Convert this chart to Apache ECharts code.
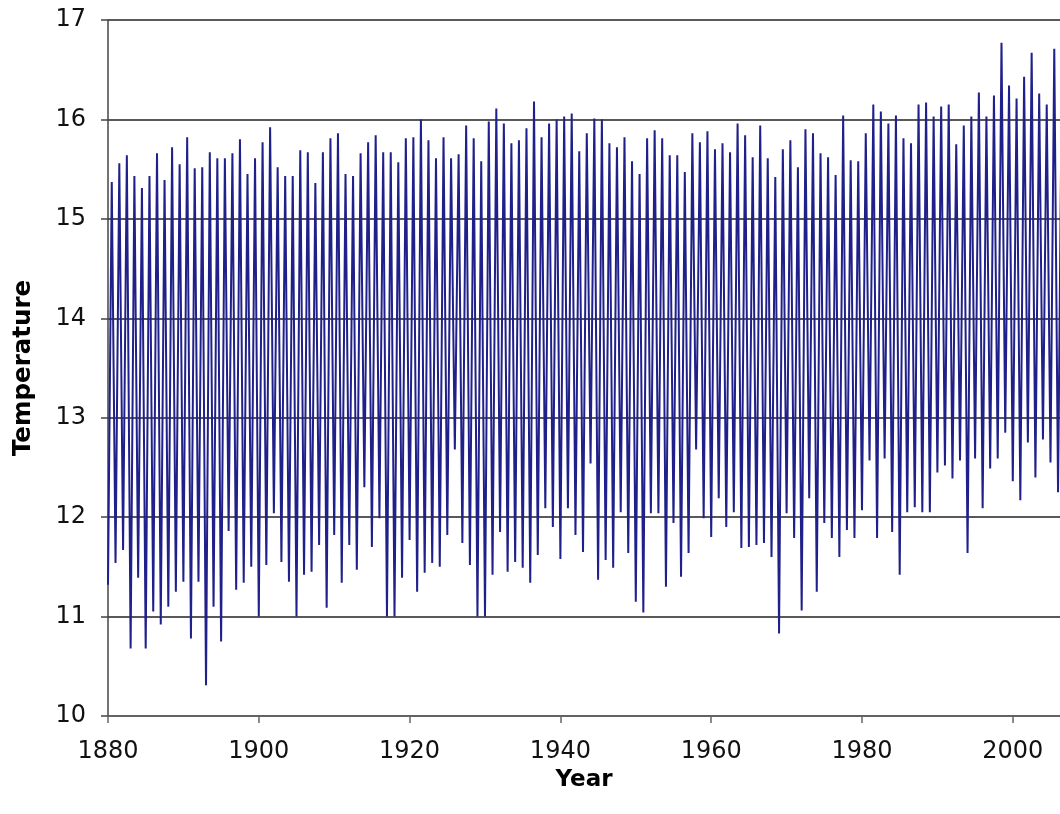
<!DOCTYPE html>
<html>
<head>
<meta charset="utf-8">
<script src="https://cdn.jsdelivr.net/npm/echarts@6/dist/echarts.min.js"></script>
<style>html,body{margin:0;padding:0;background:#fff;}#c{width:1060px;height:814px;}</style>
</head>
<body>
<div id="c"></div>
<script>
// Years (one seasonal cycle each), January troughs and July peaks (°C)
const years = [];
for (let y = 1880; y <= 2006; y++) years.push(y);
const lows = [
11.32,11.54,11.67,10.68,11.39,10.68,11.05,10.92,11.10,11.25,11.35,10.78,11.35,10.31,11.10,10.75,11.86,11.27,11.34,11.50,
11.00,11.52,12.04,11.55,11.35,11.00,11.42,11.45,11.72,11.09,11.82,11.34,11.72,11.47,12.30,11.70,11.99,11.00,11.00,11.39,
11.77,11.25,11.44,11.54,11.50,11.82,12.68,11.74,11.52,11.00,11.00,11.42,11.85,11.45,11.55,11.49,11.34,11.62,12.09,11.90,
11.58,12.09,11.82,11.65,12.54,11.37,11.57,11.49,12.05,11.64,11.15,11.04,12.04,12.04,11.30,11.94,11.40,11.64,12.68,11.99,
11.80,12.19,11.90,12.05,11.69,11.70,11.72,11.74,11.60,10.83,12.04,11.79,11.06,12.19,11.25,11.94,11.79,11.60,11.87,11.79,
12.07,12.57,11.79,12.59,11.85,11.42,12.05,12.10,12.05,12.05,12.45,12.52,12.39,12.57,11.64,12.59,12.09,12.49,12.59,12.85,
12.36,12.17,12.75,12.40,12.78,12.55,12.25
];
const highs = [
15.37,15.56,15.64,15.43,15.31,15.43,15.66,15.39,15.72,15.55,15.82,15.51,15.52,15.67,15.61,15.61,15.66,15.80,15.45,15.61,
15.77,15.92,15.52,15.43,15.43,15.69,15.67,15.36,15.67,15.81,15.86,15.45,15.43,15.66,15.77,15.84,15.67,15.67,15.57,15.81,
15.82,16.00,15.79,15.61,15.82,15.61,15.65,15.94,15.81,15.58,15.98,16.11,15.96,15.76,15.79,15.91,16.18,15.82,15.96,16.00,
16.03,16.06,15.68,15.86,16.01,16.00,15.76,15.72,15.82,15.58,15.45,15.81,15.89,15.81,15.64,15.64,15.47,15.86,15.77,15.88,
15.70,15.76,15.67,15.96,15.84,15.62,15.94,15.61,15.42,15.70,15.79,15.52,15.90,15.86,15.66,15.62,15.44,16.04,15.59,15.58,
15.86,16.15,16.08,15.96,16.04,15.81,15.76,16.15,16.17,16.03,16.13,16.15,15.75,15.94,16.03,16.27,16.03,16.24,16.77,16.34,
16.21,16.43,16.67,16.26,16.15,16.71,16.40
];
const xTicks = [1880, 1900, 1920, 1940, 1960, 1980, 2000];

const data = [];
years.forEach((y, i) => {
  data.push([y, lows[i]]);
  data.push([y + 0.5, highs[i]]);
});

const chart = echarts.init(document.getElementById('c'), null, {renderer: 'canvas'});
const font = 'DejaVu Sans, Verdana, sans-serif';
chart.setOption({
  animation: false,
  backgroundColor: '#fff',
  grid: {left: 108, right: 0, top: 20, bottom: 98, containLabel: false},
  xAxis: {
    type: 'value', min: 1880, max: 2006.26, interval: 20,
    name: 'Year', nameLocation: 'middle', nameGap: 47,
    nameTextStyle: {fontFamily: font, fontSize: 23, fontWeight: 'bold', color: '#000'},
    axisLine: {show: true, lineStyle: {color: '#666', width: 1.5}},
    axisTick: {show: true, length: 7, lineStyle: {color: '#666', width: 1.5}},
    axisLabel: {fontFamily: font, fontSize: 24, color: '#111', margin: 24, showMaxLabel: false,
      formatter: v => xTicks.includes(v) ? String(v) : ''},
    splitLine: {show: false}
  },
  yAxis: {
    type: 'value', min: 10, max: 17, interval: 1,
    name: 'Temperature', nameLocation: 'middle', nameGap: 72,
    nameTextStyle: {fontFamily: font, fontSize: 24.5, fontWeight: 'bold', color: '#000'},
    axisLine: {show: true, lineStyle: {color: '#444', width: 1.5}},
    axisTick: {show: true, length: 7, lineStyle: {color: '#444', width: 1.5}},
    axisLabel: {fontFamily: font, fontSize: 24, color: '#111', margin: 22},
    splitLine: {show: true, lineStyle: {color: '#222', width: 1.5}}
  },
  series: [{
    type: 'line', data: data, showSymbol: false, symbol: 'none',
    lineStyle: {color: '#20208a', width: 2},
    silent: true, clip: true
  }]
});
</script>
</body>
</html>
